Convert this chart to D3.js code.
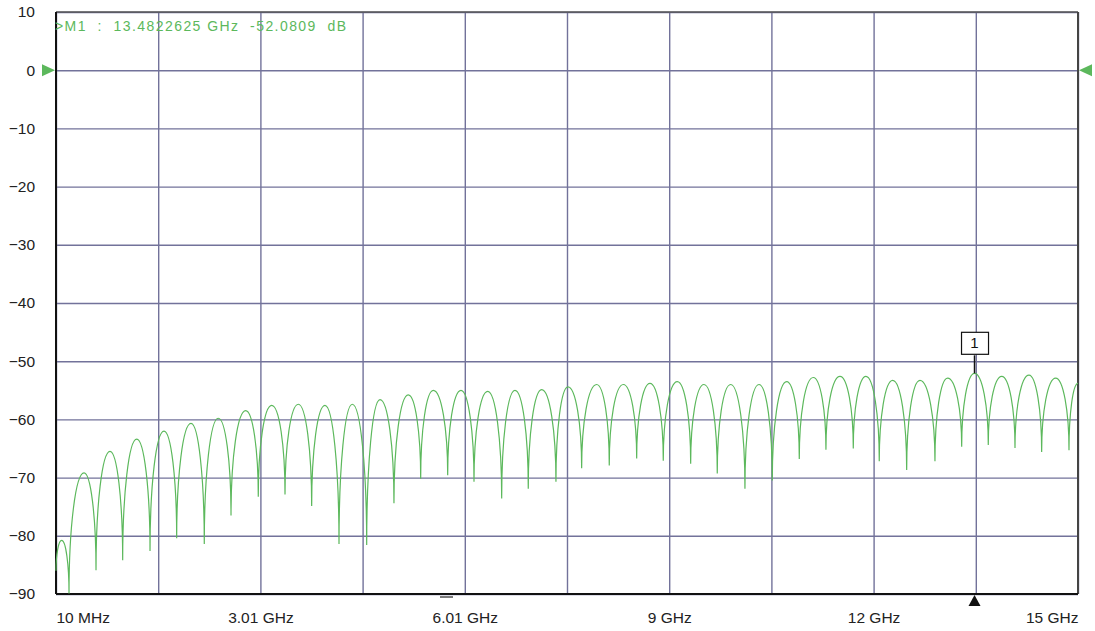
<!DOCTYPE html>
<html>
<head>
<meta charset="utf-8">
<script src="https://cdn.jsdelivr.net/npm/d3@7"></script>
<style>
  body { margin: 0; background: #fff; }
  svg { display: block; font-family: "Liberation Sans", Arial, sans-serif; }
</style>
</head>
<body>
<svg id="chart"></svg>
<script>
// sweep span and axis labels
const fStart = 0.01, fStop = 15;          // GHz
const yTickValues = [10, 0, -10, -20, -30, -40, -50, -60, -70, -80, -90];
const xGridValues = d3.range(11).map(i => fStart + i * (fStop - fStart) / 10);
const xTickValues = [0.01, 3.008, 6.006, 9.004, 12.002, 15];
const xTickLabels = ["10 MHz", "3.01 GHz", "6.01 GHz", "9 GHz", "12 GHz", "15 GHz"];

// trace, lobe by lobe (GHz, dB)
const traceStart = [0.01, -86.0];
const traceEnd = [15.0, -53.8];
const nullFreq = [0.201, 0.597, 0.988, 1.389, 1.780, 2.185, 2.577, 2.977, 3.369, 3.760,
  4.161, 4.567, 4.967, 5.359, 5.755, 6.141, 6.547, 6.937, 7.343, 7.720,
  8.125, 8.527, 8.917, 9.319, 9.709, 10.115, 10.516, 10.912, 11.303, 11.704,
  12.085, 12.487, 12.902, 13.294, 13.684, 14.076, 14.467, 14.868];
const nullLevel = [-89.9, -85.9, -84.2, -82.6, -80.4, -81.4, -76.5, -73.3, -72.9, -74.9,
  -81.4, -81.6, -74.4, -70.2, -69.6, -70.7, -73.6, -71.9, -70.7, -68.4,
  -67.9, -66.7, -67.1, -67.6, -69.3, -71.9, -70.5, -66.8, -65.2, -65.0,
  -67.2, -68.7, -67.2, -64.7, -64.4, -64.9, -65.6, -65.3];
const peakFreq = [0.094, 0.421, 0.802, 1.194, 1.594, 1.990, 2.390, 2.792, 3.174, 3.564,
  3.955, 4.356, 4.762, 5.177, 5.544, 5.950, 6.342, 6.742, 7.134, 7.519,
  7.940, 8.331, 8.722, 9.123, 9.514, 9.906, 10.321, 10.727, 11.117, 11.509,
  11.890, 12.282, 12.682, 13.088, 13.482, 13.881, 14.281, 14.672];
const peakLevel = [-80.8, -69.2, -65.5, -63.4, -62.0, -60.7, -59.8, -58.5, -57.6, -57.4,
  -57.6, -57.4, -56.6, -55.8, -55.0, -55.0, -55.2, -55.0, -54.9, -54.4,
  -54.0, -54.0, -53.8, -53.5, -54.0, -54.0, -54.0, -53.5, -52.8, -52.6,
  -52.6, -53.3, -53.3, -52.9, -52.08, -52.6, -52.4, -52.9];

// marker 1
const markerFreq = 13.4822625, markerLevel = -52.0809;
const markerText = ">M1  :  13.4822625 GHz  -52.0809  dB";

const W = 1095, H = 631;
const plotL = 56, plotR = 1078, plotT = 12, plotB = 594;

const svg = d3.select("#chart").attr("width", W).attr("height", H);

const x = d3.scaleLinear().domain([fStart, fStop]).range([plotL, plotR]);
const y = d3.scaleLinear().domain([-90, 10]).range([plotB, plotT]);

const gridColor = "#72729a";
const green = "#5cb85c";

// grid
svg.append("g")
    .attr("transform", `translate(0,${plotB})`)
    .call(d3.axisBottom(x).tickValues(xGridValues).tickSize(-(plotB - plotT)).tickFormat(""))
    .call(g => g.select(".domain").remove())
    .selectAll("line").attr("stroke", gridColor).attr("stroke-width", 1.4);

svg.append("g")
    .attr("transform", `translate(${plotL},0)`)
    .call(d3.axisLeft(y).tickValues(yTickValues).tickSize(-(plotR - plotL)).tickFormat(""))
    .call(g => g.select(".domain").remove())
    .selectAll("line").attr("stroke", gridColor).attr("stroke-width", 1.4);

// frame
svg.append("line").attr("x1", plotL).attr("x2", plotR).attr("y1", plotT).attr("y2", plotT)
    .attr("stroke", "#555").attr("stroke-width", 1.5);
svg.append("line").attr("x1", plotR).attr("x2", plotR).attr("y1", plotT).attr("y2", plotB)
    .attr("stroke", "#444").attr("stroke-width", 2);
svg.append("line").attr("x1", plotL).attr("x2", plotL).attr("y1", plotT).attr("y2", plotB)
    .attr("stroke", "#111").attr("stroke-width", 2);
svg.append("line").attr("x1", plotL).attr("x2", plotR).attr("y1", plotB).attr("y2", plotB)
    .attr("stroke", "#111").attr("stroke-width", 2);

// y labels
svg.append("g")
    .attr("transform", `translate(${plotL},0)`)
    .call(d3.axisLeft(y).tickValues(yTickValues).tickSize(0).tickPadding(21).tickFormat(d3.format("d")))
    .call(g => g.select(".domain").remove())
    .selectAll("text")
    .attr("fill", "#222")
    .style("font-size", "15.5px")
    .style("font-family", "'Liberation Sans', Arial, sans-serif");

// x labels
svg.append("g")
    .attr("transform", `translate(0,${plotB})`)
    .call(d3.axisBottom(x).tickValues(xTickValues).tickSize(0).tickPadding(18)
        .tickFormat((d, i) => xTickLabels[i]))
    .call(g => g.select(".domain").remove())
    .selectAll("text")
    .attr("fill", "#222")
    .attr("text-anchor", (d, i) => i === 0 ? "start" : i === xTickValues.length - 1 ? "end" : "middle")
    .style("font-size", "15.5px")
    .style("font-family", "'Liberation Sans', Arial, sans-serif");

// arch curve: quarter-ellipse between a null and a peak
// (vertical at the lower point, flat at the higher one)
const K = 0.5523;
function curveArch(context) {
    let x0, y0, started;
    return {
        areaStart() {}, areaEnd() {},
        lineStart() { started = false; },
        lineEnd() {},
        point(px, py) {
            if (!started) { context.moveTo(px, py); started = true; }
            else if (py < y0) {
                context.bezierCurveTo(x0, y0 + K * (py - y0), px - K * (px - x0), py, px, py);
            } else {
                context.bezierCurveTo(x0 + K * (px - x0), y0, px, py - K * (py - y0), px, py);
            }
            x0 = px; y0 = py;
        }
    };
}

// trace points: start, then peak / null pairs, then end
const tracePoints = [traceStart];
peakFreq.forEach((f, i) => {
    tracePoints.push([f, peakLevel[i]]);
    tracePoints.push([nullFreq[i], nullLevel[i]]);
});
tracePoints.push(traceEnd);

const line = d3.line()
    .x(d => x(d[0]))
    .y(d => y(Math.max(d[1], -90)))
    .curve(curveArch);

svg.append("path")
    .datum(tracePoints)
    .attr("d", line)
    .attr("fill", "none")
    .attr("stroke", green)
    .attr("stroke-width", 1.2);

// reference level arrows
svg.append("path")
    .attr("d", `M${plotL - 14},${y(0) - 6}L${plotL - 1},${y(0)}L${plotL - 14},${y(0) + 6}Z`)
    .attr("fill", green);
svg.append("path")
    .attr("d", `M${plotR + 14},${y(0) - 6}L${plotR + 1},${y(0)}L${plotR + 14},${y(0) + 6}Z`)
    .attr("fill", green);

// marker readout
svg.append("text")
    .attr("x", plotL - 1)
    .attr("y", 31)
    .attr("fill", green)
    .attr("xml:space", "preserve")
    .attr("textLength", 291)
    .attr("lengthAdjust", "spacing")
    .style("font-size", "14px")
    .style("white-space", "pre")
    .text(markerText);

// marker flag
const mx = x(markerFreq), my = y(markerLevel);
svg.append("line").attr("x1", mx).attr("x2", mx).attr("y1", my).attr("y2", my - 18)
    .attr("stroke", "#111").attr("stroke-width", 1.5);
svg.append("rect").attr("x", mx - 13).attr("y", my - 41).attr("width", 27).attr("height", 22)
    .attr("fill", "#fff").attr("stroke", "#111").attr("stroke-width", 1.2);
svg.append("text").attr("x", mx).attr("y", my - 25).attr("text-anchor", "middle")
    .attr("fill", "#111").style("font-size", "15px").text("1");
svg.append("path")
    .attr("d", `M${mx - 6},${plotB + 12}L${mx},${plotB + 1}L${mx + 6},${plotB + 12}Z`)
    .attr("fill", "#111");

// small dash under the axis
svg.append("line").attr("x1", 440).attr("x2", 453).attr("y1", plotB + 3).attr("y2", plotB + 3)
    .attr("stroke", "#222").attr("stroke-width", 1.2);
</script>
</body>
</html>
